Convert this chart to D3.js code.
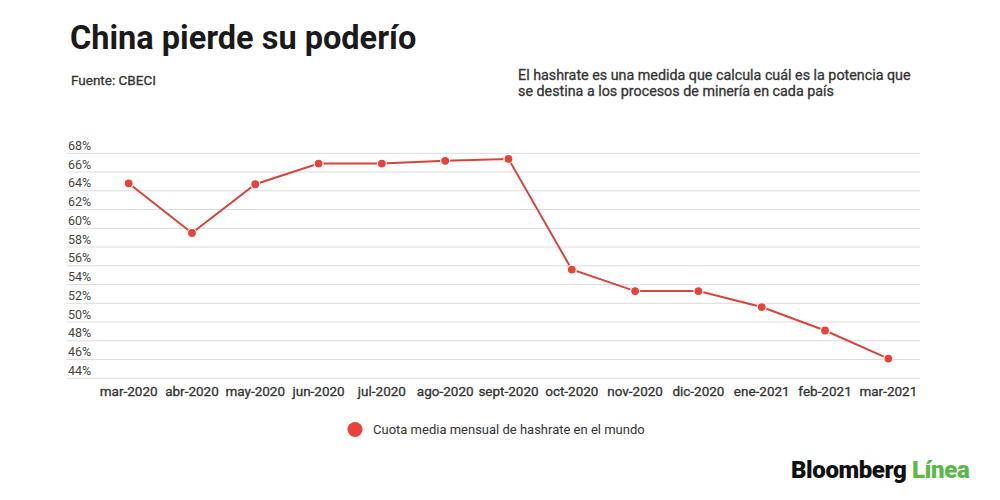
<!DOCTYPE html>
<html lang="es">
<head>
  <meta charset="UTF-8">
  <title>China pierde su poderío</title>
  <style>
    body { margin: 0; background: #fff; font-family: Roboto, "Noto Sans", sans-serif; }
    svg text { font-family: Roboto, "Noto Sans", sans-serif; }
    .med { stroke: currentColor; stroke-width: 0.3px; }
  </style>
</head>
<body>
  <svg id="chart" width="1000" height="500"></svg>

  <script src="https://d3js.org/d3.v7.min.js"></script>
  <script>
    const months = ["mar-2020", "abr-2020", "may-2020", "jun-2020", "jul-2020", "ago-2020", "sept-2020",
                    "oct-2020", "nov-2020", "dic-2020", "ene-2021", "feb-2021", "mar-2021"];
    const share = [64.8, 59.5, 64.7, 66.9, 66.9, 67.2, 67.4, 55.6, 53.3, 53.3, 51.6, 49.1, 46.1];
    const yTicks = [44, 46, 48, 50, 52, 54, 56, 58, 60, 62, 64, 66, 68];
    const seriesName = "Cuota media mensual de hashrate en el mundo";

    const svg = d3.select("#chart");
    const red = "#e8423a";

    // titles
    svg.append("text").attr("x", 70).attr("y", 49)
      .attr("font-size", 32.5).attr("font-weight", 700).attr("fill", "#1a1a1a")
      .text("China pierde su poderío");
    svg.append("text").attr("x", 71).attr("y", 85).attr("class", "med")
      .attr("font-size", 13.5).attr("fill", "#333").style("color", "#333")
      .text("Fuente: CBECI");

    const note = svg.append("text").attr("x", 518).attr("y", 80).attr("class", "med")
      .attr("font-size", 14.3).attr("fill", "#333").style("color", "#333");
    note.append("tspan").attr("x", 518).text("El hashrate es una medida que calcula cuál es la potencia que");
    note.append("tspan").attr("x", 518).attr("dy", 15.5).text("se destina a los procesos de minería en cada país");

    // scales
    const x = d3.scaleBand().domain(months).range([97, 920]);
    const y = d3.scaleLinear().domain([44, 68]).range([378.3, 153.3]);

    // grid + y labels
    const grid = svg.append("g");
    grid.selectAll("line").data(yTicks).enter().append("line")
      .attr("x1", 67).attr("x2", 920)
      .attr("y1", d => y(d)).attr("y2", d => y(d))
      .attr("stroke", "#dcdcdc").attr("stroke-width", 1);
    grid.selectAll("text").data(yTicks).enter().append("text")
      .attr("x", 68).attr("y", d => y(d) - 3.5)
      .attr("font-size", 12.5).attr("fill", "#444")
      .text(d => d + "%");

    // x axis labels
    const xAxis = svg.append("g")
      .attr("transform", "translate(0, 378)")
      .call(d3.axisBottom(x).tickSize(0).tickPadding(8));
    xAxis.select(".domain").remove();
    xAxis.selectAll("text")
      .attr("class", "med").style("color", "#333")
      .attr("font-size", 13.5).attr("fill", "#333")
      .attr("font-family", "Roboto, sans-serif");

    // line + points
    const data = months.map((m, i) => ({ m, v: share[i] }));
    const cx = d => x(d.m) + x.bandwidth() / 2;

    svg.append("path").datum(data)
      .attr("fill", "none").attr("stroke", "#d5453b").attr("stroke-width", 2)
      .attr("d", d3.line().x(cx).y(d => y(d.v)));

    svg.selectAll(".pt").data(data).enter().append("circle")
      .attr("class", "pt")
      .attr("cx", cx).attr("cy", d => y(d.v)).attr("r", 4.5)
      .attr("fill", red).attr("stroke", "#fff").attr("stroke-width", 1.2);

    // legend
    svg.append("circle").attr("cx", 355).attr("cy", 429.5).attr("r", 7.5).attr("fill", red);
    svg.append("text").attr("x", 373).attr("y", 434)
      .attr("font-size", 13).attr("fill", "#333").text(seriesName);

    // brand
    const brand = svg.append("text").attr("x", 791).attr("y", 478)
      .attr("font-size", 24).attr("font-weight", 900).attr("letter-spacing", -0.4);
    brand.append("tspan").attr("fill", "#111").text("Bloomberg ");
    brand.append("tspan").attr("fill", "#5cb848").text("Línea");
  </script>
</body>
</html>
